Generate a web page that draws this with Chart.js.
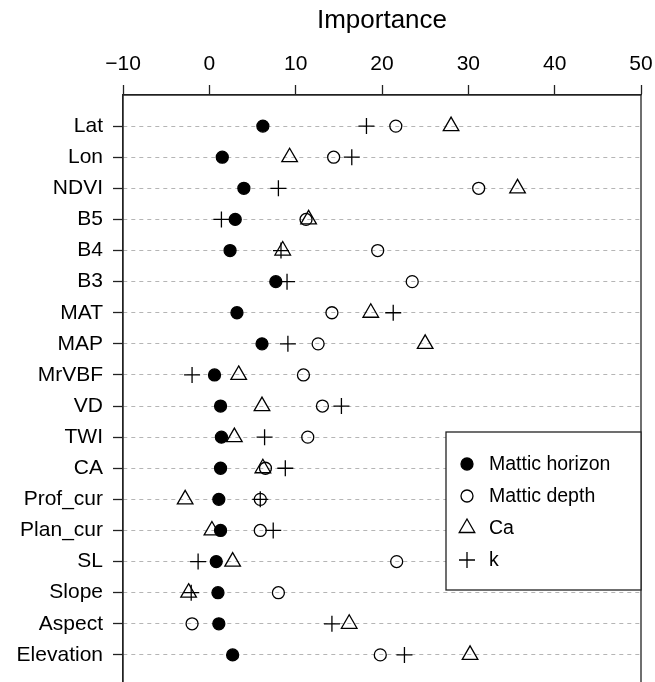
<!DOCTYPE html>
<html>
<head>
<meta charset="utf-8">
<title>Importance</title>
<script src="https://cdn.jsdelivr.net/npm/chart.js"></script>
<style>
  html, body { margin: 0; padding: 0; background: #fff; overflow: hidden; }
  canvas { display: block; }
</style>
</head>
<body>
<canvas id="chart" width="655" height="700"></canvas>
<script>
// variables, top to bottom
const variables = ["Lat", "Lon", "NDVI", "B5", "B4", "B3", "MAT", "MAP", "MrVBF", "VD",
  "TWI", "CA", "Prof_cur", "Plan_cur", "SL", "Slope", "Aspect", "Elevation"];

// importance per variable
const matticHorizon = [6.2, 1.5, 4.0, 3.0, 2.4, 7.7, 3.2, 6.1, 0.6, 1.3, 1.4, 1.3, 1.1, 1.3, 0.8, 1.0, 1.1, 2.7];
const matticDepth = [21.6, 14.4, 31.2, 11.2, 19.5, 23.5, 14.2, 12.6, 10.9, 13.1, 11.4, 6.5, 5.9, 5.9, 21.7, 8.0, -2.0, 19.8];
const ca = [28.0, 9.3, 35.7, 11.5, 8.5, null, 18.7, 25.0, 3.4, 6.1, 2.9, 6.2, -2.8, 0.3, 2.7, -2.4, 16.2, 30.2];
const kVals = [18.2, 16.5, 8.0, 1.4, 8.3, 9.0, 21.3, 9.1, -2.0, 15.3, 6.4, 8.8, 5.9, 7.4, -1.3, -2.1, 14.2, 22.6];

const xTicks = [-10, 0, 10, 20, 30, 40, 50];

const FONT = "'Liberation Sans', Arial, Helvetica, sans-serif";

function toPoints(vals) {
  const pts = [];
  vals.forEach((v, i) => {
    if (v !== null) pts.push({ x: v, y: i + 1 });
  });
  return pts;
}

function makeSet(label, vals, style, radius, fill) {
  return {
    label: label,
    data: toPoints(vals),
    pointStyle: style,
    pointRadius: radius,
    pointHoverRadius: radius,
    pointBorderWidth: 1.3,
    pointBorderColor: "#000",
    pointBackgroundColor: fill,
    showLine: false
  };
}

// full box around the plot + legend box in the lower right
const boxAndLegend = {
  id: "boxAndLegend",
  afterDatasetsDraw(chart) {
    const ctx = chart.ctx;
    const a = chart.chartArea;
    ctx.save();
    ctx.setLineDash([]);
    ctx.strokeStyle = "#222";
    ctx.lineWidth = 1.3;
    ctx.strokeRect(a.left, a.top, a.right - a.left, a.bottom - a.top);

    // legend
    const lx = 446, ly = 432, lw = a.right - 446, lh = 158;
    ctx.fillStyle = "#fff";
    ctx.fillRect(lx, ly, lw, lh);
    ctx.strokeRect(lx, ly, lw, lh);
    ctx.font = "19.5px " + FONT;
    ctx.textBaseline = "middle";
    ctx.textAlign = "left";
    chart.data.datasets.forEach((ds, i) => {
      const cy = ly + 32 + i * 32;
      const cx = lx + 21;
      ctx.fillStyle = ds.pointBackgroundColor;
      ctx.strokeStyle = "#000";
      ctx.lineWidth = 1.3;
      Chart.helpers.drawPoint(ctx, {
        pointStyle: ds.pointStyle,
        radius: ds.pointRadius,
        rotation: 0,
        borderWidth: 1.3
      }, cx, cy);
      ctx.fillStyle = "#000";
      ctx.fillText(ds.label, lx + 43, cy + 1);
    });
    ctx.restore();
  }
};

new Chart(document.getElementById("chart"), {
  type: "scatter",
  data: {
    datasets: [
      makeSet("Mattic horizon", matticHorizon, "circle", 6, "#000"),
      makeSet("Mattic depth", matticDepth, "circle", 6, "rgba(0,0,0,0)"),
      makeSet("Ca", ca, "triangle", 9, "rgba(0,0,0,0)"),
      makeSet("k", kVals, "cross", 8, "rgba(0,0,0,0)")
    ]
  },
  options: {
    responsive: false,
    animation: false,
    devicePixelRatio: 1,
    layout: { padding: { left: 0, right: 14, top: 0, bottom: 14 } },
    plugins: {
      legend: { display: false },
      tooltip: { enabled: false }
    },
    scales: {
      x: {
        type: "linear",
        position: "top",
        min: -10,
        max: 50,
        afterBuildTicks(scale) {
          scale.ticks = xTicks.map(v => ({ value: v }));
        },
        afterFit(scale) {
          scale.height = 95;
          scale.paddingLeft = 0;
          scale.paddingRight = 0;
        },
        ticks: {
          color: "#000",
          padding: 8,
          font: { family: FONT, size: 21 },
          callback: v => String(v).replace("-", "\u2212")
        },
        grid: {
          drawOnChartArea: false,
          drawTicks: true,
          tickLength: 10,
          tickColor: "#222",
          tickWidth: 1.3
        },
        border: { display: true, color: "#222", width: 1.3 },
        title: {
          display: true,
          text: "Importance",
          color: "#000",
          font: { family: FONT, size: 26 },
          padding: { top: 5, bottom: 0 }
        }
      },
      y: {
        type: "linear",
        reverse: true,
        min: 0,
        max: 19,
        afterBuildTicks(scale) {
          scale.ticks = variables.map((_, i) => ({ value: i + 1 }));
        },
        afterFit(scale) {
          scale.width = 123;
          scale.paddingTop = 0;
          scale.paddingBottom = 0;
        },
        ticks: {
          color: "#000",
          padding: 10,
          font: { family: FONT, size: 21 },
          callback: v => variables[v - 1] || ""
        },
        grid: {
          color: "#b5b5b5",
          lineWidth: 1,
          drawTicks: true,
          tickLength: 10,
          tickColor: "#222",
          tickWidth: 1.3,
          tickBorderDash: []
        },
        border: { display: true, color: "#222", width: 1.3, dash: [4, 4] }
      }
    }
  },
  plugins: [boxAndLegend]
});
</script>
</body>
</html>
